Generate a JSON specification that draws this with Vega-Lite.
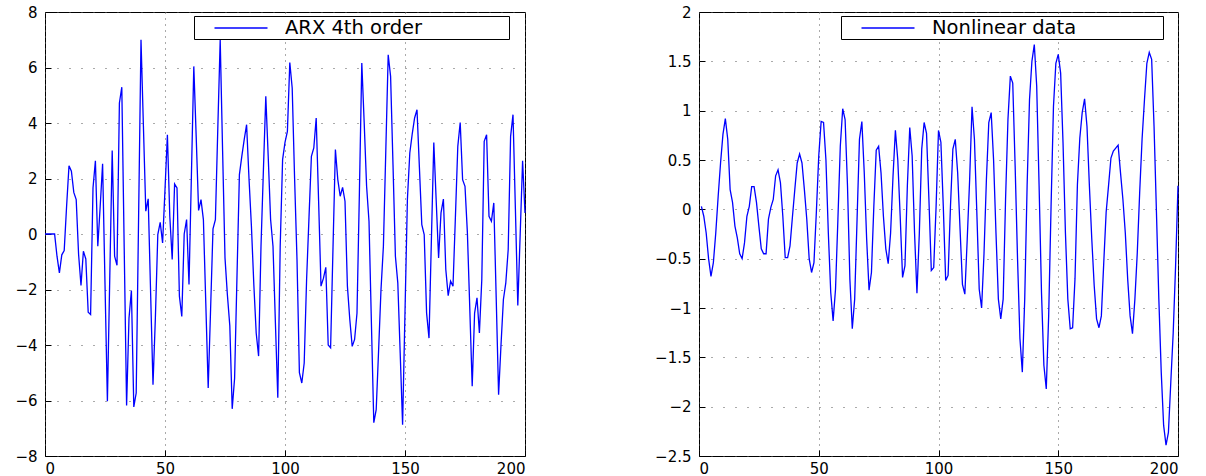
{
  "$schema": "https://vega.github.io/schema/vega-lite/v6.json",
  "background": "white",
  "padding": {"left": 14, "top": 4, "right": 5, "bottom": 0},
  "spacing": 125,
  "datasets": {
    "arx": [
      {"t":0,"y":0},{"t":1,"y":0},{"t":2,"y":0},{"t":3,"y":0},{"t":4,"y":0},{"t":5,"y":-0.8},{"t":6,"y":-1.4},{"t":7,"y":-0.75},{"t":8,"y":-0.6},{"t":9,"y":1.0},
      {"t":10,"y":2.46},{"t":11,"y":2.26},{"t":12,"y":1.5},{"t":13,"y":1.24},{"t":14,"y":-0.74},{"t":15,"y":-1.85},{"t":16,"y":-0.62},{"t":17,"y":-0.9},{"t":18,"y":-2.82},{"t":19,"y":-2.9},
      {"t":20,"y":1.66},{"t":21,"y":2.64},{"t":22,"y":-0.44},{"t":23,"y":1.0},{"t":24,"y":2.53},{"t":25,"y":-1.8},{"t":26,"y":-6.03},{"t":27,"y":-1.5},{"t":28,"y":3.01},{"t":29,"y":-0.8},
      {"t":30,"y":-1.13},{"t":31,"y":4.72},{"t":32,"y":5.29},{"t":33,"y":-0.5},{"t":34,"y":-6.18},{"t":35,"y":-3.03},{"t":36,"y":-2.04},{"t":37,"y":-6.23},{"t":38,"y":-5.73},{"t":39,"y":0.6},
      {"t":40,"y":7.0},{"t":41,"y":3.9},{"t":42,"y":0.82},{"t":43,"y":1.27},{"t":44,"y":-2.1},{"t":45,"y":-5.43},{"t":46,"y":-3.0},{"t":47,"y":-0.02},{"t":48,"y":0.42},{"t":49,"y":-0.32},
      {"t":50,"y":1.6},{"t":51,"y":3.58},{"t":52,"y":0.64},{"t":53,"y":-0.92},{"t":54,"y":1.8},{"t":55,"y":1.66},{"t":56,"y":-2.24},{"t":57,"y":-2.97},{"t":58,"y":0},{"t":59,"y":0.52},
      {"t":60,"y":-1.82},{"t":61,"y":2.1},{"t":62,"y":6.04},{"t":63,"y":3.5},{"t":64,"y":0.85},{"t":65,"y":1.24},{"t":66,"y":0.52},{"t":67,"y":-2.5},{"t":68,"y":-5.55},{"t":69,"y":-2.7},
      {"t":70,"y":0.19},{"t":71,"y":0.52},{"t":72,"y":3.8},{"t":73,"y":7.0},{"t":74,"y":3.0},{"t":75,"y":-0.86},{"t":76,"y":-2.2},{"t":77,"y":-3.3},{"t":78,"y":-6.3},{"t":79,"y":-5.2},
      {"t":80,"y":-1.5},{"t":81,"y":2.14},{"t":82,"y":2.8},{"t":83,"y":3.4},{"t":84,"y":3.94},{"t":85,"y":2.0},{"t":86,"y":0.3},{"t":87,"y":-1.8},{"t":88,"y":-3.57},{"t":89,"y":-4.4},
      {"t":90,"y":-0.44},{"t":91,"y":2.3},{"t":92,"y":4.96},{"t":93,"y":2.8},{"t":94,"y":0.52},{"t":95,"y":-0.44},{"t":96,"y":-3.2},{"t":97,"y":-5.9},{"t":98,"y":-0.44},{"t":99,"y":2.68},
      {"t":100,"y":3.3},{"t":101,"y":3.7},{"t":102,"y":6.18},{"t":103,"y":5.26},{"t":104,"y":2.0},{"t":105,"y":-0.92},{"t":106,"y":-5.0},{"t":107,"y":-5.37},{"t":108,"y":-4.65},{"t":109,"y":-1.64},
      {"t":110,"y":0.6},{"t":111,"y":2.8},{"t":112,"y":3.1},{"t":113,"y":4.18},{"t":114,"y":1.2},{"t":115,"y":-1.88},{"t":116,"y":-1.6},{"t":117,"y":-1.2},{"t":118,"y":-4.0},{"t":119,"y":-4.1},
      {"t":120,"y":-0.5},{"t":121,"y":3.04},{"t":122,"y":1.96},{"t":123,"y":1.36},{"t":124,"y":1.68},{"t":125,"y":1.18},{"t":126,"y":-1.88},{"t":127,"y":-3.08},{"t":128,"y":-4.05},{"t":129,"y":-3.8},
      {"t":130,"y":-2.85},{"t":131,"y":1.5},{"t":132,"y":6.16},{"t":133,"y":4.0},{"t":134,"y":1.72},{"t":135,"y":0.46},{"t":136,"y":-3.2},{"t":137,"y":-6.8},{"t":138,"y":-6.33},{"t":139,"y":-4.2},
      {"t":140,"y":-2.0},{"t":141,"y":-0.44},{"t":142,"y":3.0},{"t":143,"y":6.46},{"t":144,"y":5.68},{"t":145,"y":2.5},{"t":146,"y":-0.8},{"t":147,"y":-1.76},{"t":148,"y":-4.3},{"t":149,"y":-6.87},
      {"t":150,"y":-2.8},{"t":151,"y":1.24},{"t":152,"y":2.92},{"t":153,"y":3.6},{"t":154,"y":4.18},{"t":155,"y":4.48},{"t":156,"y":2.4},{"t":157,"y":0.34},{"t":158,"y":-0.02},{"t":159,"y":-2.85},
      {"t":160,"y":-3.75},{"t":161,"y":-0.2},{"t":162,"y":3.3},{"t":163,"y":1.2},{"t":164,"y":-0.86},{"t":165,"y":0.76},{"t":166,"y":1.26},{"t":167,"y":-1.28},{"t":168,"y":-2.22},{"t":169,"y":-1.7},
      {"t":170,"y":-1.88},{"t":171,"y":0.6},{"t":172,"y":3.16},{"t":173,"y":4.02},{"t":174,"y":1.96},{"t":175,"y":1.72},{"t":176,"y":0.04},{"t":177,"y":-2.7},{"t":178,"y":-5.49},{"t":179,"y":-2.85},
      {"t":180,"y":-2.3},{"t":181,"y":-3.57},{"t":182,"y":-1.64},{"t":183,"y":3.34},{"t":184,"y":3.58},{"t":185,"y":0.64},{"t":186,"y":0.46},{"t":187,"y":1.12},{"t":188,"y":-2.3},{"t":189,"y":-5.79},
      {"t":190,"y":-4.0},{"t":191,"y":-2.36},{"t":192,"y":-1.76},{"t":193,"y":-0.56},{"t":194,"y":3.52},{"t":195,"y":4.3},{"t":196,"y":0.9},{"t":197,"y":-2.58},{"t":198,"y":0.0},{"t":199,"y":2.64},
      {"t":200,"y":0.76}
    ],
    "nl": [
      {"t":1,"y":0.03},{"t":2,"y":-0.07},{"t":3,"y":-0.24},{"t":4,"y":-0.5},{"t":5,"y":-0.68},{"t":6,"y":-0.54},{"t":7,"y":-0.24},{"t":8,"y":0.13},{"t":9,"y":0.47},
      {"t":10,"y":0.76},{"t":11,"y":0.92},{"t":12,"y":0.71},{"t":13,"y":0.2},{"t":14,"y":0.07},{"t":15,"y":-0.17},{"t":16,"y":-0.29},{"t":17,"y":-0.45},{"t":18,"y":-0.5},{"t":19,"y":-0.34},
      {"t":20,"y":-0.07},{"t":21,"y":0.03},{"t":22,"y":0.23},{"t":23,"y":0.23},{"t":24,"y":0.07},{"t":25,"y":-0.17},{"t":26,"y":-0.4},{"t":27,"y":-0.45},{"t":28,"y":-0.45},{"t":29,"y":-0.1},
      {"t":30,"y":0.02},{"t":31,"y":0.1},{"t":32,"y":0.34},{"t":33,"y":0.4},{"t":34,"y":0.27},{"t":35,"y":-0.07},{"t":36,"y":-0.49},{"t":37,"y":-0.49},{"t":38,"y":-0.37},{"t":39,"y":-0.08},
      {"t":40,"y":0.2},{"t":41,"y":0.47},{"t":42,"y":0.56},{"t":43,"y":0.47},{"t":44,"y":0.2},{"t":45,"y":-0.1},{"t":46,"y":-0.5},{"t":47,"y":-0.64},{"t":48,"y":-0.54},{"t":49,"y":-0.03},
      {"t":50,"y":0.54},{"t":51,"y":0.89},{"t":52,"y":0.88},{"t":53,"y":0.5},{"t":54,"y":-0.24},{"t":55,"y":-0.84},{"t":56,"y":-1.13},{"t":57,"y":-0.81},{"t":58,"y":-0.1},{"t":59,"y":0.64},
      {"t":60,"y":1.02},{"t":61,"y":0.91},{"t":62,"y":0.24},{"t":63,"y":-0.71},{"t":64,"y":-1.21},{"t":65,"y":-0.91},{"t":66,"y":-0.1},{"t":67,"y":0.71},{"t":68,"y":0.89},{"t":69,"y":0.37},
      {"t":70,"y":-0.3},{"t":71,"y":-0.82},{"t":72,"y":-0.64},{"t":73,"y":0.03},{"t":74,"y":0.6},{"t":75,"y":0.64},{"t":76,"y":0.37},{"t":77,"y":-0.07},{"t":78,"y":-0.4},{"t":79,"y":-0.55},
      {"t":80,"y":-0.24},{"t":81,"y":0.33},{"t":82,"y":0.8},{"t":83,"y":0.5},{"t":84,"y":-0.07},{"t":85,"y":-0.69},{"t":86,"y":-0.57},{"t":87,"y":0.24},{"t":88,"y":0.83},{"t":89,"y":0.54},
      {"t":90,"y":-0.24},{"t":91,"y":-0.85},{"t":92,"y":-0.24},{"t":93,"y":0.61},{"t":94,"y":0.88},{"t":95,"y":0.77},{"t":96,"y":0.1},{"t":97,"y":-0.62},{"t":98,"y":-0.59},{"t":99,"y":0.03},
      {"t":100,"y":0.8},{"t":101,"y":0.68},{"t":102,"y":0.03},{"t":103,"y":-0.72},{"t":104,"y":-0.67},{"t":105,"y":0.03},{"t":106,"y":0.61},{"t":107,"y":0.71},{"t":108,"y":0.37},{"t":109,"y":-0.2},
      {"t":110,"y":-0.76},{"t":111,"y":-0.86},{"t":112,"y":-0.3},{"t":113,"y":0.3},{"t":114,"y":1.04},{"t":115,"y":0.71},{"t":116,"y":-0.03},{"t":117,"y":-0.81},{"t":118,"y":-1.0},{"t":119,"y":-0.45},
      {"t":120,"y":0.3},{"t":121,"y":0.88},{"t":122,"y":0.98},{"t":123,"y":0.5},{"t":124,"y":-0.24},{"t":125,"y":-0.91},{"t":126,"y":-1.11},{"t":127,"y":-0.91},{"t":128,"y":0.1},{"t":129,"y":0.91},
      {"t":130,"y":1.35},{"t":131,"y":1.28},{"t":132,"y":0.44},{"t":133,"y":-0.5},{"t":134,"y":-1.31},{"t":135,"y":-1.65},{"t":136,"y":-0.91},{"t":137,"y":0.24},{"t":138,"y":1.11},{"t":139,"y":1.5},
      {"t":140,"y":1.67},{"t":141,"y":1.25},{"t":142,"y":0.24},{"t":143,"y":-0.84},{"t":144,"y":-1.58},{"t":145,"y":-1.82},{"t":146,"y":-1.08},{"t":147,"y":0.03},{"t":148,"y":1.04},{"t":149,"y":1.48},
      {"t":150,"y":1.57},{"t":151,"y":1.38},{"t":152,"y":0.67},{"t":153,"y":-0.24},{"t":154,"y":-0.91},{"t":155,"y":-1.21},{"t":156,"y":-1.2},{"t":157,"y":-0.7},{"t":158,"y":0.25},{"t":159,"y":0.72},
      {"t":160,"y":0.98},{"t":161,"y":1.12},{"t":162,"y":0.84},{"t":163,"y":0.24},{"t":164,"y":-0.3},{"t":165,"y":-0.77},{"t":166,"y":-1.11},{"t":167,"y":-1.2},{"t":168,"y":-1.08},{"t":169,"y":-0.54},
      {"t":170,"y":-0.03},{"t":171,"y":0.24},{"t":172,"y":0.52},{"t":173,"y":0.59},{"t":174,"y":0.62},{"t":175,"y":0.65},{"t":176,"y":0.37},{"t":177,"y":0.1},{"t":178,"y":-0.24},{"t":179,"y":-0.71},
      {"t":180,"y":-1.08},{"t":181,"y":-1.26},{"t":182,"y":-0.91},{"t":183,"y":-0.44},{"t":184,"y":0.17},{"t":185,"y":0.71},{"t":186,"y":1.11},{"t":187,"y":1.48},{"t":188,"y":1.59},{"t":189,"y":1.52},
      {"t":190,"y":0.84},{"t":191,"y":-0.03},{"t":192,"y":-0.91},{"t":193,"y":-1.65},{"t":194,"y":-2.19},{"t":195,"y":-2.39},{"t":196,"y":-2.26},{"t":197,"y":-1.75},{"t":198,"y":-1.25},{"t":199,"y":-0.57},
      {"t":200,"y":0.24}
    ]
  },
  "resolve": {"scale": {"color": "independent"}, "legend": {"color": "independent"}},
  "hconcat": [
    {
      "width": 480,
      "height": 444,
      "data": {"name": "arx"},
      "mark": {"type": "line", "strokeWidth": 1.3},
      "encoding": {
        "x": {"field": "t", "type": "quantitative", "scale": {"domain": [0, 200], "nice": false}, "axis": {"values": [0, 50, 100, 150, 200], "format": "d", "title": null, "gridDash": [1, 5], "labelPadding": 11}},
        "y": {"field": "y", "type": "quantitative", "scale": {"domain": [-8, 8], "nice": false, "zero": false}, "axis": {"values": [-8, -6, -4, -2, 0, 2, 4, 6, 8], "format": "~g", "title": null, "gridDash": [1, 11]}},
        "color": {
          "datum": "ARX 4th order",
          "scale": {"range": ["#0000ff"]},
          "legend": {
            "orient": "none", "legendX": 149, "legendY": 4, "title": null,
            "symbolType": "M-2.65,0L2.65,0", "symbolSize": 400, "symbolStrokeWidth": 1.3,
            "symbolStrokeColor": "#0000ff", "symbolFillColor": "transparent",
            "symbolOffset": 35, "labelOffset": 33, "padding": 1,
            "labelFontSize": 19.5, "labelFont": "DejaVu Sans", "labelColor": "black", "labelLimit": 500,
            "labelExpr": "datum.label + '\u2800\u2800\u2800\u2800\u2800\u2800'",
            "strokeColor": "black", "fillColor": "white"
          }
        }
      }
    },
    {
      "width": 479,
      "height": 444,
      "data": {"name": "nl"},
      "mark": {"type": "line", "strokeWidth": 1.3},
      "encoding": {
        "x": {"field": "t", "type": "quantitative", "scale": {"domain": [0, 200], "nice": false}, "axis": {"values": [0, 50, 100, 150, 200], "format": "d", "title": null, "gridDash": [1, 5], "labelPadding": 11}},
        "y": {"field": "y", "type": "quantitative", "scale": {"domain": [-2.5, 2], "nice": false, "zero": false}, "axis": {"values": [-2.5, -2, -1.5, -1, -0.5, 0, 0.5, 1, 1.5, 2], "format": "~g", "title": null, "gridDash": [1, 11]}},
        "color": {
          "datum": "Nonlinear data",
          "scale": {"range": ["#0000ff"]},
          "legend": {
            "orient": "none", "legendX": 142, "legendY": 4, "title": null,
            "symbolType": "M-2.65,0L2.65,0", "symbolSize": 400, "symbolStrokeWidth": 1.3,
            "symbolStrokeColor": "#0000ff", "symbolFillColor": "transparent",
            "symbolOffset": 35, "labelOffset": 33, "padding": 1,
            "labelFontSize": 19.5, "labelFont": "DejaVu Sans", "labelColor": "black", "labelLimit": 500,
            "labelExpr": "datum.label + '\u2800\u2800\u2800\u2800\u2800\u2800'",
            "strokeColor": "black", "fillColor": "white"
          }
        }
      }
    }
  ],
  "config": {
    "view": {"stroke": "black", "strokeWidth": 1},
    "axis": {
      "domain": false,
      "grid": true,
      "gridColor": "#555555",
      "gridWidth": 1,
      "ticks": true,
      "tickSize": -6,
      "tickColor": "black",
      "labelPadding": 14,
      "labelFont": "DejaVu Sans",
      "labelFontSize": 15,
      "labelColor": "black"
    }
  }
}
